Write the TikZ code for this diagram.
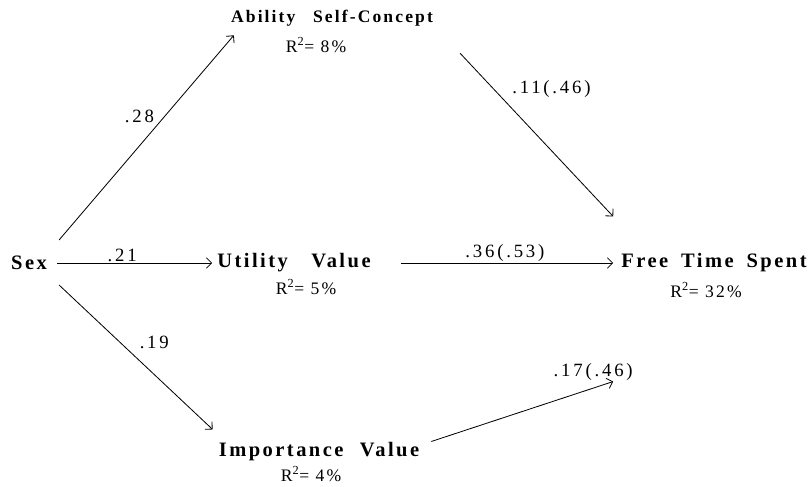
\documentclass[tikz,border=0pt]{standalone}
\usepackage{fontspec}
\setmainfont{Liberation Serif}
\usepackage{tikz}
\usetikzlibrary{calc,arrows.meta}

\begin{document}
\begin{tikzpicture}[%
  x=0.03cm, y=-0.03cm,
  var/.style={inner sep=0pt, font=\fontsize{17.5}{19}\selectfont\bfseries\addfontfeatures{LetterSpace=12}},
  smallvar/.style={var, font=\fontsize{15}{17}\selectfont\bfseries\addfontfeatures{LetterSpace=12}},
  rsq/.style={inner sep=0pt, font=\fontsize{15}{17}\selectfont\addfontfeatures{LetterSpace=12}},
  coef/.style={inner sep=0pt, font=\fontsize{16}{18}\selectfont\addfontfeatures{LetterSpace=15}},
  link/.style={-{Straight Barb[length=4.5pt,width=9pt]}, line width=0.7pt}]
  \useasboundingbox (0,0) rectangle (811,487);
  % variables
  \node[var] (sex) at (29,263) {Sex};
  \node[smallvar] (abil) at (332,18) {Ability\quad Self-Concept};
  \node[rsq] (abilr) at (316,45) {R\textsuperscript{2}= 8\%};
  \node[var] (util) at (294,263) {Utility\hspace{20pt}Value};
  \node[rsq] (utilr) at (306,287) {R\textsuperscript{2}= 5\%};
  \node[var] (imp) at (319,452) {Importance\hspace{14pt}Value};
  \node[rsq] (impr) at (311,474) {R\textsuperscript{2}= 4\%};
  \node[var] (free) at (714,263) {Free\hspace{11pt}Time\hspace{11pt}Spent};
  \node[rsq] (freer) at (706,290) {R\textsuperscript{2}= 32\%};
  % paths
  \draw[link] ($(sex.east)+(12,-23)$) -- ($(abil.south west)+(3,9)$)
    node[coef, pos=0.46, shift={(0,-29)}] (p28) {.28};
  \draw[link] ($(sex.east)+(10,0)$) -- ($(util.west)+(-5,0)$)
    node[coef, pos=0.42, above=1pt] (p21) {.21};
  \draw[link] ($(sex.east)+(12,22)$) -- ($(imp.north west)+(-6,-13)$)
    node[coef, pos=0.62, shift={(0,-32)}] (p19) {.19};
  \draw[link] ($(abil.south east)+(27,27)$) -- ($(free.north west)+(-8,-37)$)
    node[coef, pos=0.24, anchor=west, shift={(15,-3)}] (p11) {.11(.46)};
  \draw[link] ($(util.east)+(30,0)$) -- ($(free.west)+(-8,0)$)
    node[coef, pos=0.49, above=1pt] (p36) {.36(.53)};
  \draw[link] ($(imp.north east)+(12,-1)$) -- ($(free.south west)+(-8,109)$)
    node[coef, pos=0.89, shift={(0,-16)}] (p17) {.17(.46)};
\end{tikzpicture}
\end{document}
